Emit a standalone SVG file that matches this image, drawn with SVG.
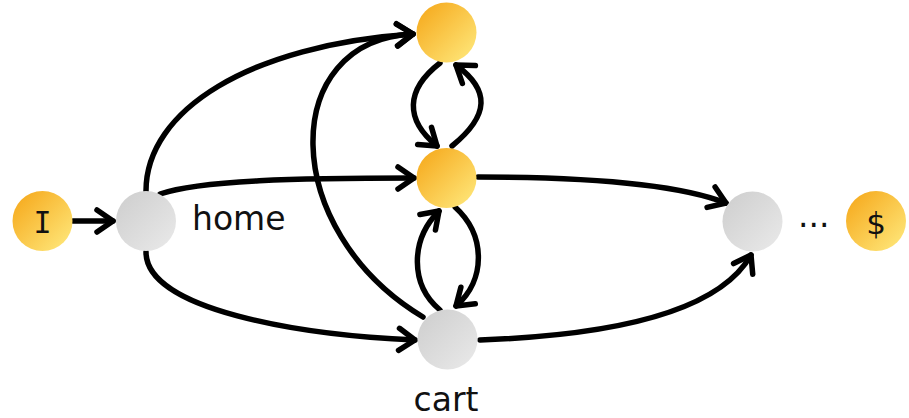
<svg xmlns="http://www.w3.org/2000/svg" width="909" height="418" viewBox="0 0 909 418">
<style>
.edge{fill:none;stroke:#000;stroke-width:5.5;stroke-linecap:round;marker-end:url(#arr)}
.lbl{font-family:"DejaVu Sans",Verdana,sans-serif;font-size:33px;fill:#111}
.sym{font-family:"DejaVu Sans",Verdana,sans-serif;font-size:31px;fill:#111;text-anchor:middle}
</style>
<defs>
<linearGradient id="og" x1="0" y1="0" x2="1" y2="1">
<stop offset="0" stop-color="#F5A516"/>
<stop offset="1" stop-color="#FFEB80"/>
</linearGradient>
<linearGradient id="gg" x1="0" y1="0" x2="1" y2="1">
<stop offset="0" stop-color="#CDCDCD"/>
<stop offset="1" stop-color="#EAEAEA"/>
</linearGradient>
<marker id="arr" markerUnits="userSpaceOnUse" viewBox="-20 -14 24 28" markerWidth="24" markerHeight="28" refX="0" refY="0" orient="auto" overflow="visible">
<path d="M-16,-11 L0,0 L-16,11" fill="none" stroke="#000" stroke-width="5.5" stroke-linecap="round" stroke-linejoin="round"/>
</marker>
</defs>
<g id="connectors">
<path class="edge" d="M73,221 L113,221"/>
<path class="edge" d="M146,191 C146,110 250,45 413,34"/>
<path class="edge" d="M423,317 C278,230 278,40 413,34"/>
<path class="edge" d="M160,194 C200,180 300,178 414,178"/>
<path class="edge" d="M146,252 C146,310 300,335 415,340"/>
<path class="edge" d="M440,63 C405,90 405,120 437,146"/>
<path class="edge" d="M452,146 C490,115 490,90 456,65"/>
<path class="edge" d="M440,310 C410,285 410,240 439,211"/>
<path class="edge" d="M455,207 C486,235 486,280 456,306"/>
<path class="edge" d="M478,177 C600,177 680,185 726,203"/>
<path class="edge" d="M480,340 C620,335 720,310 751,255"/>
</g>
<g id="node-I">
<circle cx="42.5" cy="221" r="30" fill="url(#og)"/>
<text x="42.5" y="233" style="font-family:'DejaVu Sans Mono',monospace;font-size:30px;fill:#111;text-anchor:middle">I</text>
</g>
<g id="node-home">
<circle cx="146" cy="221" r="30" fill="url(#gg)"/>
<text class="lbl" x="192" y="230">home</text>
</g>
<g id="node-top">
<circle cx="446.5" cy="32.5" r="30" fill="url(#og)"/>
</g>
<g id="node-mid">
<circle cx="446.5" cy="178" r="30" fill="url(#og)"/>
</g>
<g id="node-cart">
<circle cx="447.5" cy="339.5" r="30" fill="url(#gg)"/>
<text class="lbl" x="446" y="411" text-anchor="middle">cart</text>
</g>
<g id="node-right">
<circle cx="752.5" cy="221.5" r="30" fill="url(#gg)"/>
</g>
<g id="dots">
<text class="lbl" x="798" y="227">...</text>
</g>
<g id="node-dollar">
<circle cx="876" cy="221" r="30" fill="url(#og)"/>
<text class="sym" x="876" y="234">$</text>
</g>
</svg>
